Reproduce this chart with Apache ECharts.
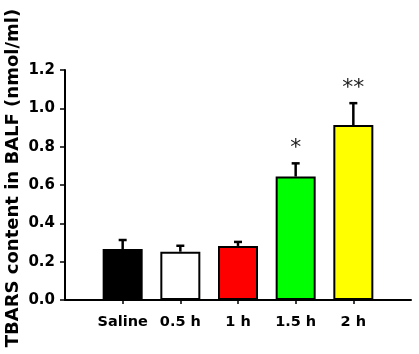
<!DOCTYPE html>
<html>
<head>
<meta charset="utf-8">
<script src="https://cdn.jsdelivr.net/npm/echarts@6/dist/echarts.min.js"></script>
<style>
  html, body { margin: 0; padding: 0; background: #fff; }
  #chart { width: 419px; height: 354px; }
</style>
</head>
<body>
<div id="chart"></div>
<script>
// slots at both ends stay empty so the axis runs past the bars
const categories = ['', 'Saline', '0.5 h', '1 h', '1.5 h', '2 h', ''];
const means = [null, 0.266, 0.252, 0.282, 0.644, 0.913, null];
const sem = [null, 0.047, 0.031, 0.021, 0.069, 0.114, null];
const marks = ['', '', '', '', '*', '**', ''];
const barColors = ['#000', '#000000', '#ffffff', '#ff0000', '#00ff00', '#ffff00', '#000'];
const yTicks = [0, 0.2, 0.4, 0.6, 0.8, 1.0, 1.2];

const font = 'DejaVu Sans';
const chart = echarts.init(document.getElementById('chart'));

const errData = [];
means.forEach((m, i) => {
  if (m != null) errData.push([i, m, m + sem[i]]);
});

chart.setOption({
  animation: false,
  grid: { left: 65, right: 8, top: 70, bottom: 54, outerBoundsMode: 'none', containLabel: false },
  xAxis: {
    type: 'category',
    data: categories,
    boundaryGap: false,
    axisLine: { lineStyle: { color: '#000', width: 2 } },
    axisTick: {
      length: 4,
      lineStyle: { color: '#000', width: 1.5 },
      interval: (i) => i > 0 && i < categories.length - 1,
    },
    axisLabel: {
      color: '#000',
      fontFamily: font,
      fontWeight: 'bold',
      fontSize: 14.5,
      margin: 15,
      interval: 0,
    },
  },
  yAxis: {
    type: 'value',
    min: yTicks[0],
    max: yTicks[yTicks.length - 1],
    interval: 0.2,
    name: 'TBARS content in BALF (nmol/ml)',
    nameLocation: 'middle',
    nameGap: 43,
    nameMoveOverlap: false,
    nameTextStyle: {
      color: '#000',
      fontFamily: font,
      fontWeight: 'bold',
      fontSize: 18,
      padding: [0, 0, 0, 14],
    },
    axisLine: { show: true, lineStyle: { color: '#000', width: 2 } },
    axisTick: { show: true, length: 5, lineStyle: { color: '#000', width: 1.5 } },
    axisLabel: {
      color: '#000',
      fontFamily: font,
      fontWeight: 'bold',
      fontSize: 15,
      margin: 10,
      formatter: (v) => v.toFixed(1),
    },
    splitLine: { show: false },
  },
  series: [
    {
      type: 'custom',
      z: 1,
      data: errData,
      encode: { x: 0, y: [1, 2] },
      renderItem: (params, api) => {
        const x = api.value(0);
        const base = api.coord([x, api.value(1)]);
        const top = api.coord([x, api.value(2)]);
        const mark = marks[x];
        const children = [
          { type: 'line', shape: { x1: base[0], y1: base[1], x2: top[0], y2: top[1] },
            style: { stroke: '#000', lineWidth: 2.5 } },
          { type: 'line', shape: { x1: top[0] - 4, y1: top[1], x2: top[0] + 4, y2: top[1] },
            style: { stroke: '#000', lineWidth: 2.5 } },
        ];
        if (mark) {
          children.push({
            type: 'text',
            style: {
              x: top[0], y: top[1] - 4, text: mark,
              align: 'center', verticalAlign: 'bottom',
              fill: '#222', font: '22px "DejaVu Sans"',
            },
          });
        }
        return { type: 'group', children: children };
      },
    },
    {
      type: 'bar',
      z: 2,
      barWidth: 40,
      data: means.map((m, i) => ({
        value: m,
        itemStyle: { color: barColors[i], borderColor: '#000', borderWidth: 2 },
      })),
    },
  ],
});
</script>
</body>
</html>
